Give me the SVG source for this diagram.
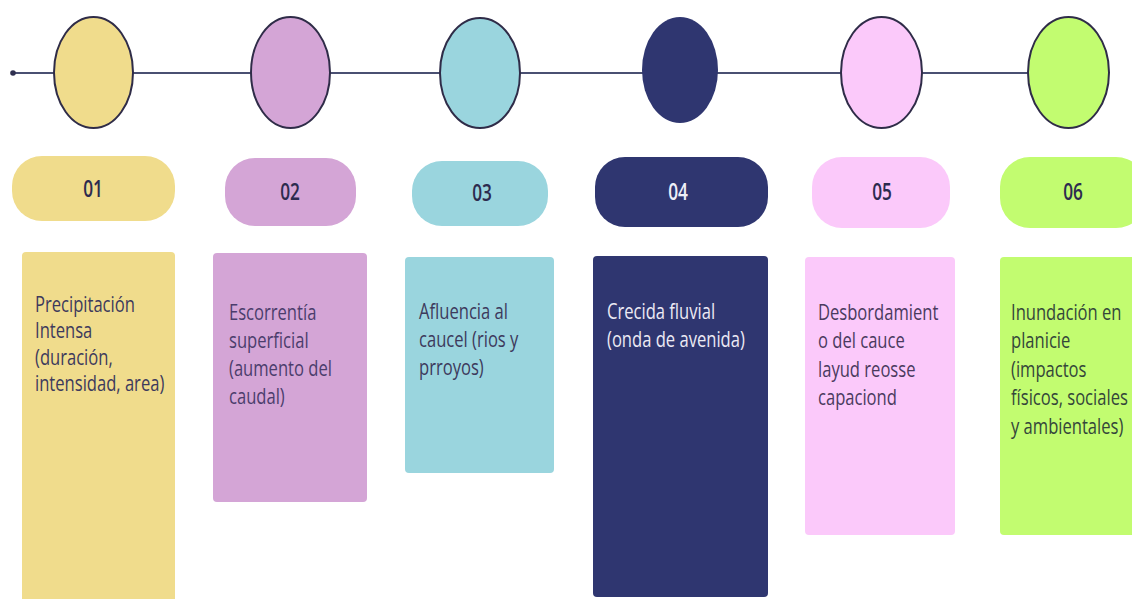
<svg xmlns="http://www.w3.org/2000/svg" width="1132" height="599" viewBox="0 0 1132 599">
<style>
.circ{stroke:#2f2c48;stroke-width:2}
.pill{stroke:none}
.box{stroke:none}
.num{font-family:"Open Sans","Noto Sans",sans-serif;font-size:23px;font-weight:600;fill:#2d2b4f;text-anchor:middle}
.txt{font-family:"Open Sans","Noto Sans",sans-serif;font-size:21px;fill:#3d3a5c}
.wt{fill:#eceaf4}
.y{fill:#f0dc8c}.p{fill:#d4a5d6}.c{fill:#9ad5de}.n{fill:#2f3670}.k{fill:#fbc9fa}.g{fill:#c2fc70}
</style>
<rect width="1132" height="599" fill="#ffffff"/>
<g id="connectors">
<line x1="13" y1="73" x2="1030" y2="73" stroke="#4a5072" stroke-width="2"/>
<circle cx="13" cy="73" r="2.8" fill="#2f3050"/>
</g>
<g id="step-01">
<ellipse class="circ y" cx="93.5" cy="72.5" rx="39.5" ry="55.5"/>
<rect class="pill y" x="12" y="156" width="163" height="65" rx="30"/>
<text class="num" transform="translate(93,197) scale(0.75,1)">01</text>
<rect class="box y" x="22" y="252" width="153" height="360" rx="4"/>
<text class="txt" transform="translate(35,312) scale(0.79,1)"><tspan x="0" y="0">Precipitación</tspan><tspan x="0" y="26.5">Intensa</tspan><tspan x="0" y="53">(duración,</tspan><tspan x="0" y="79.5">intensidad, area)</tspan></text>
</g>
<g id="step-02">
<ellipse class="circ p" cx="290.5" cy="72.5" rx="39.5" ry="55.5"/>
<rect class="pill p" x="225" y="158" width="131" height="68" rx="30"/>
<text class="num" transform="translate(290,200) scale(0.75,1)">02</text>
<rect class="box p" x="213" y="253" width="154" height="249" rx="4"/>
<text class="txt" transform="translate(229,320) scale(0.79,1)" style="fill:#4b3d6c"><tspan x="0" y="0">Escorrentía</tspan><tspan x="0" y="28">superficial</tspan><tspan x="0" y="56">(aumento del</tspan><tspan x="0" y="84">caudal)</tspan></text>
</g>
<g id="step-03">
<ellipse class="circ c" cx="480" cy="73" rx="40" ry="55"/>
<rect class="pill c" x="412" y="161" width="136" height="65" rx="30"/>
<text class="num" transform="translate(482,201) scale(0.75,1)">03</text>
<rect class="box c" x="405" y="257" width="149" height="216" rx="4"/>
<text class="txt" transform="translate(419,319) scale(0.79,1)"><tspan x="0" y="0">Afluencia al</tspan><tspan x="0" y="28">caucel (rios y</tspan><tspan x="0" y="56">prroyos)</tspan></text>
</g>
<g id="step-04">
<ellipse class="n" cx="680" cy="70" rx="38" ry="53"/>
<rect class="pill n" x="595" y="157" width="173" height="70" rx="30"/>
<text class="num" transform="translate(678,200) scale(0.75,1)" style="fill:#eef0f8">04</text>
<rect class="box n" x="593" y="256" width="175" height="341" rx="4"/>
<text class="txt wt" transform="translate(607,319) scale(0.79,1)"><tspan x="0" y="0">Crecida fluvial</tspan><tspan x="0" y="28">(onda de avenida)</tspan></text>
</g>
<g id="step-05">
<ellipse class="circ k" cx="881.5" cy="72.5" rx="40.5" ry="55.5"/>
<rect class="pill k" x="812" y="157" width="138" height="71" rx="30"/>
<text class="num" transform="translate(882,200) scale(0.75,1)">05</text>
<rect class="box k" x="805" y="257" width="150" height="278" rx="4"/>
<text class="txt" transform="translate(818,320) scale(0.79,1)" style="fill:#4a3a5e"><tspan x="0" y="0">Desbordamient</tspan><tspan x="0" y="28.5">o del cauce</tspan><tspan x="0" y="57">layud reosse</tspan><tspan x="0" y="85.5">capaciond</tspan></text>
</g>
<g id="step-06">
<ellipse class="circ g" cx="1068.5" cy="72.5" rx="40.5" ry="55.5"/>
<rect class="pill g" x="1000" y="157" width="146" height="71" rx="30"/>
<text class="num" transform="translate(1073,200) scale(0.75,1)">06</text>
<rect class="box g" x="1000" y="257" width="150" height="278" rx="4"/>
<text class="txt" transform="translate(1011,320) scale(0.79,1)" style="fill:#34463a"><tspan x="0" y="0">Inundación en</tspan><tspan x="0" y="28.5">planicie</tspan><tspan x="0" y="57">(impactos</tspan><tspan x="0" y="85.5">físicos, sociales</tspan><tspan x="0" y="114">y ambientales)</tspan></text>
</g>
</svg>
